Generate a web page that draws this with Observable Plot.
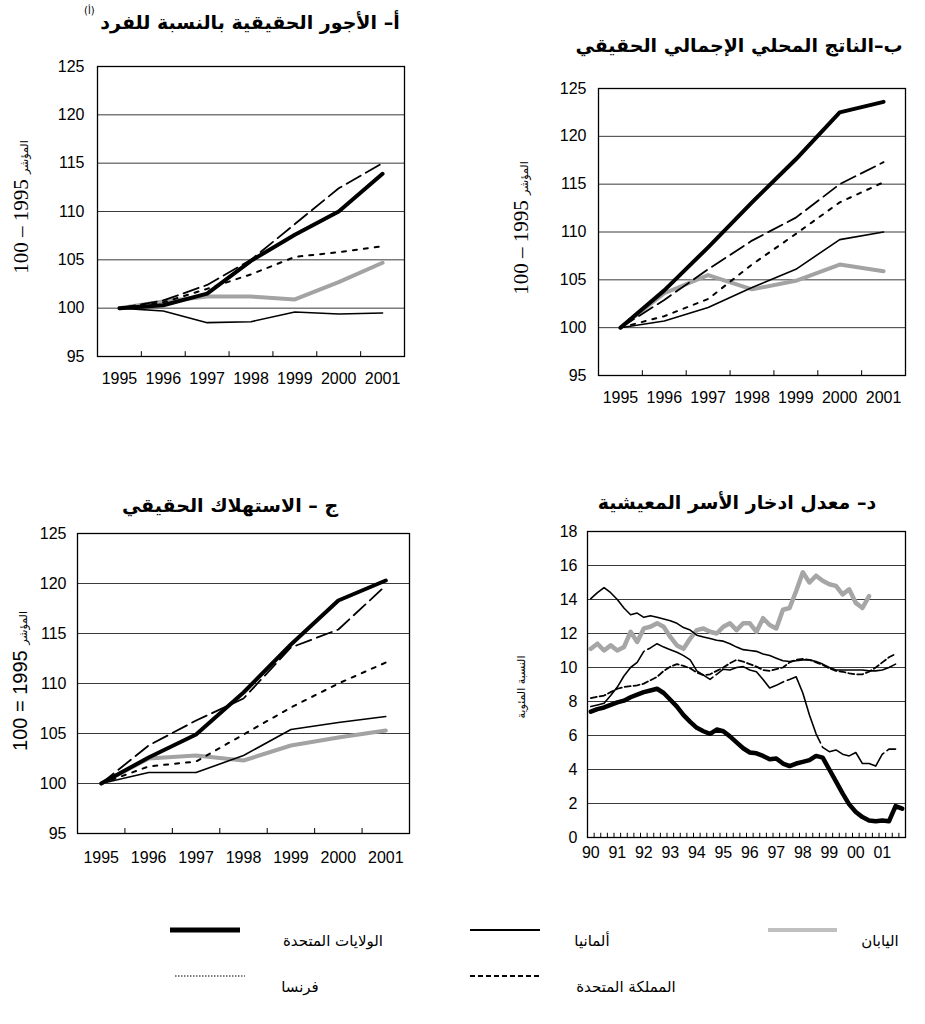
<!DOCTYPE html>
<html><head><meta charset="utf-8">
<script src="https://cdn.jsdelivr.net/npm/d3@7"></script>
<script src="https://cdn.jsdelivr.net/npm/@observablehq/plot@0.6"></script>
<style>
body{margin:0;background:#fff;}
#page{position:relative;width:925px;height:1024px;overflow:hidden;background:#fff;}
.title{position:absolute;transform:translate(-50%,-50%);white-space:nowrap;font-family:"DejaVu Sans",serif;font-weight:bold;font-size:19px;direction:rtl;line-height:1;color:#000;}
.sup{position:absolute;font-family:"DejaVu Sans",serif;font-size:10px;line-height:1;}
.ticks text{font-family:"Liberation Sans",Arial,sans-serif;font-size:16px;}
</style></head><body><div id="page"></div>
<script>
// ---------- data ----------
const years = [1995, 1996, 1997, 1998, 1999, 2000, 2001];
const seriesKeys = ["us", "de", "jp", "fr", "uk"];
const seriesNames = ["الولايات المتحدة", "ألمانيا", "اليابان", "فرنسا", "المملكة المتحدة"];

// أ – real wages per person
const wagesUS = [100, 100.3, 101.5, 104.9, 107.6, 110.0, 113.9];
const wagesDE = [100, 99.7, 98.5, 98.6, 99.6, 99.4, 99.5];
const wagesJP = [100, 100.7, 101.2, 101.2, 100.9, 102.7, 104.7];
const wagesFR = [100, 100.6, 102.0, 103.5, 105.3, 105.8, 106.4];
const wagesUK = [100, 100.8, 102.4, 105.0, 108.7, 112.4, 115.0];

// ب – real GDP
const gdpUS = [100, 103.9, 108.4, 113.1, 117.6, 122.5, 123.6];
const gdpDE = [100, 100.7, 102.1, 104.2, 106.1, 109.2, 110.0];
const gdpJP = [100, 103.6, 105.5, 104.0, 104.9, 106.6, 105.9];
const gdpFR = [100, 101.2, 103.0, 106.6, 109.8, 113.1, 115.2];
const gdpUK = [100, 102.9, 106.1, 109.1, 111.5, 115.0, 117.3];

// ج – real consumption
const consUS = [100, 102.6, 104.9, 109.1, 113.9, 118.3, 120.3];
const consDE = [100, 101.1, 101.1, 102.8, 105.4, 106.1, 106.7];
const consJP = [100, 102.5, 102.8, 102.3, 103.8, 104.6, 105.3];
const consFR = [100, 101.7, 102.2, 104.9, 107.6, 110.0, 112.1];
const consUK = [100, 103.8, 106.3, 108.5, 113.6, 115.4, 119.8];

const indexTicks = [95, 100, 105, 110, 115, 120, 125];
const indexGrid = [100, 105, 110, 115, 120];

// د – household saving rate, quarterly 1990Q1..
const saveYears = [1990, 1991, 1992, 1993, 1994, 1995, 1996, 1997, 1998, 1999, 2000, 2001];
const saveYearLabels = ["90", "91", "92", "93", "94", "95", "96", "97", "98", "99", "00", "01"];
const quarters = [1, 2, 3, 4];
const saveUS = [7.4, 7.55, 7.65, 7.8, 7.95, 8.05, 8.25, 8.4, 8.55, 8.65, 8.75, 8.5, 8.1, 7.7, 7.2, 6.8,
  6.45, 6.25, 6.1, 6.35, 6.25, 5.95, 5.6, 5.25, 5.0, 4.95, 4.8, 4.6, 4.65, 4.35, 4.2, 4.35,
  4.45, 4.55, 4.8, 4.7, 4.0, 3.3, 2.6, 1.95, 1.5, 1.2, 1.0, 0.95, 1.0, 0.95, 1.85, 1.7];
const saveDE = [14.05, 14.4, 14.7, 14.4, 14.0, 13.5, 13.1, 13.2, 12.95, 13.05, 12.95, 12.85, 12.75, 12.6, 12.35, 12.2,
  11.9, 11.8, 11.7, 11.6, 11.55, 11.4, 11.2, 11.05, 11.0, 10.95, 10.8, 10.7, 10.55, 10.4, 10.35, 10.4,
  10.45, 10.45, 10.35, 10.2, 10.0, 9.85, 9.85, 9.85, 9.85, 9.85, 9.8, 9.8, 9.85, 10.0, 10.2];
const saveJP = [11.1, 11.4, 11.0, 11.3, 11.0, 11.2, 12.1, 11.5, 12.3, 12.4, 12.6, 12.4, 11.8, 11.3, 11.1, 11.7,
  12.2, 12.3, 12.1, 12.0, 12.4, 12.6, 12.2, 12.6, 12.6, 12.1, 12.9, 12.5, 12.3, 13.4, 13.5, 14.5,
  15.6, 15.0, 15.4, 15.1, 14.9, 14.8, 14.3, 14.6, 13.8, 13.5, 14.2];
const saveFR = [8.2, 8.28, 8.35, 8.55, 8.75, 8.85, 8.9, 8.95, 9.05, 9.25, 9.45, 9.8, 10.05, 10.2, 10.1, 9.95,
  9.7, 9.55, 9.6, 9.8, 10.0, 10.25, 10.45, 10.35, 10.2, 10.05, 9.85, 9.8, 9.9, 10.0, 10.3, 10.45,
  10.5, 10.45, 10.3, 10.15, 9.95, 9.8, 9.75, 9.65, 9.6, 9.6, 9.75, 10.0, 10.3, 10.6, 10.8];
const saveUK = [7.7, 7.8, 7.9, 8.35, 8.85, 9.5, 10.0, 10.3, 10.95, 11.15, 11.4, 11.2, 11.05, 10.9, 10.7, 10.45,
  9.8, 9.55, 9.3, 9.6, 9.9, 9.85, 10.0, 10.05, 9.85, 9.75, 9.3, 8.8, 8.95, 9.15, 9.3, 9.45,
  8.5, 7.2, 6.1, 5.3, 5.05, 5.15, 4.9, 4.8, 5.0, 4.35, 4.35, 4.2, 4.9, 5.2, 5.2];
const saveTicks = [0, 2, 4, 6, 8, 10, 12, 14, 16, 18];
const saveGrid = [2, 4, 6, 8, 10, 12, 14, 16];

// ---------- helpers ----------
const page = document.getElementById("page");
const quarterPos = saveYears.flatMap(y => quarters.map(q => y + (q - 0.5) / 4));
const quarterBounds = saveYears.flatMap(y => quarters.map(q => y + (q - 1) / 4)).concat([saveYears[saveYears.length - 1] + 1]);
const yearBounds = years.slice(0, -1).map(y => y + 0.5);

function rows(values, xs) { return values.map((v, i) => ({x: xs[i], y: v})); }

const styleIdx = {
  jp: {stroke: "#a3a3a3", strokeWidth: 4},
  de: {stroke: "#000", strokeWidth: 1.6},
  fr: {stroke: "#000", strokeWidth: 2, strokeDasharray: "4,7"},
  uk: {stroke: "#000", strokeWidth: 1.8, strokeDasharray: "16,6"},
  us: {stroke: "#000", strokeWidth: 4}
};
const styleSave = {
  jp: {stroke: "#a6a6a6", strokeWidth: 4.5},
  de: {stroke: "#000", strokeWidth: 1.6},
  fr: {stroke: "#000", strokeWidth: 1.8, strokeDasharray: "6,3"},
  uk: {stroke: "#000", strokeWidth: 1.6, strokeDasharray: "80,4"},
  us: {stroke: "#000", strokeWidth: 4.5}
};
const drawOrder = ["jp", "de", "fr", "uk", "us"];

function place(el, left, top) {
  el.style.position = "absolute"; el.style.left = left + "px"; el.style.top = top + "px";
  page.appendChild(el);
}
function addYLabel(svg, x, y, parts) {
  const t = d3.select(svg).append("text")
    .attr("transform", `translate(${x},${y}) rotate(-90)`)
    .attr("text-anchor", "middle").attr("direction", "ltr").attr("fill", "#000");
  parts.forEach(p => t.append("tspan").attr("style", `font-family:${p.font};font-size:${p.size}px`).text(p.text));
}
function addTitle(text, cx, cy) {
  const d = document.createElement("div");
  d.className = "title"; d.textContent = text;
  d.style.left = cx + "px"; d.style.top = cy + "px";
  page.appendChild(d);
}

function indexPanel(data, geo) {
  const lines = drawOrder.map(k => Plot.line(rows(data[k], years), {x: "x", y: "y", ...styleIdx[k], strokeLinejoin: "round"}));
  return Plot.plot({
    width: geo.w, height: geo.h,
    marginLeft: geo.ml, marginRight: geo.mr, marginTop: geo.mt, marginBottom: geo.mb,
    x: {type: "linear", domain: [years[0] - 0.5, years[years.length - 1] + 0.5]},
    y: {domain: [indexTicks[0], indexTicks[indexTicks.length - 1]]},
    style: {fontFamily: "'Liberation Sans', Arial, sans-serif", fontSize: "16px", color: "#000", background: "transparent"},
    marks: [
      Plot.ruleY(indexGrid, {stroke: "#3a3a3a", strokeWidth: 1}),
      Plot.ruleX(yearBounds, {y1: indexTicks[0], y2: indexTicks[0] + geo.tick, stroke: "#000", strokeWidth: 1}),
      ...lines,
      Plot.frame({stroke: "#000", strokeWidth: 1.3}),
      Plot.axisY({ticks: indexTicks, tickSize: 0, tickPadding: geo.ytp, fontSize: 16, label: null, className: "ticks"}),
      Plot.axisX({ticks: years, tickSize: 0, tickPadding: geo.xtp, fontSize: 16, tickFormat: d => String(d), label: null, className: "ticks"})
    ]
  });
}

// ---------- panel أ ----------
const svgA = indexPanel({us: wagesUS, de: wagesDE, jp: wagesJP, fr: wagesFR, uk: wagesUK},
  {w: 460, h: 370, ml: 97, mr: 56, mt: 26, mb: 54, tick: 0.5, ytp: 13, xtp: 16});
addYLabel(svgA, 28, 167, [
  {text: "100 – 1995 ", font: "'Liberation Serif','Times New Roman',serif", size: 21},
  {text: "المؤشر", font: "'DejaVu Sans',serif", size: 11}]);
place(svgA, 0, 40);
addTitle("أ– الأجور الحقيقية بالنسبة للفرد", 250, 22);
const sup = document.createElement("div"); sup.className = "sup"; sup.textContent = "(أ)";
sup.style.left = "84px"; sup.style.top = "6px"; page.appendChild(sup);

// ---------- panel ب ----------
const svgB = indexPanel({us: gdpUS, de: gdpDE, jp: gdpJP, fr: gdpFR, uk: gdpUK},
  {w: 455, h: 350, ml: 128, mr: 20, mt: 28, mb: 35, tick: 0.5, ytp: 12, xtp: 16});
addYLabel(svgB, 58, 168, [
  {text: "100 – 1995 ", font: "'Liberation Serif','Times New Roman',serif", size: 21},
  {text: "المؤشر", font: "'DejaVu Sans',serif", size: 11}]);
place(svgB, 470, 60);
addTitle("ب–الناتج المحلي الإجمالي الحقيقي", 739, 45);

// ---------- panel ج ----------
const svgC = indexPanel({us: consUS, de: consDE, jp: consJP, fr: consFR, uk: consUK},
  {w: 460, h: 360, ml: 77, mr: 51, mt: 13, mb: 47, tick: 0.5, ytp: 11, xtp: 18});
addYLabel(svgC, 27, 161, [
  {text: "100 = 1995 ", font: "'Liberation Sans',Arial,sans-serif", size: 20},
  {text: "المؤشر", font: "'DejaVu Sans',serif", size: 11}]);
place(svgC, 0, 520);
addTitle("ج –  الاستهلاك الحقيقي", 230, 505);

// ---------- panel د ----------
const saveData = {us: saveUS, de: saveDE, jp: saveJP, fr: saveFR, uk: saveUK};
const svgD = Plot.plot({
  width: 455, height: 360, marginLeft: 117, marginRight: 20, marginTop: 11, marginBottom: 43,
  x: {type: "linear", domain: [saveYears[0], saveYears[saveYears.length - 1] + 1]},
  y: {domain: [saveTicks[0], saveTicks[saveTicks.length - 1]]},
  style: {fontFamily: "'Liberation Sans', Arial, sans-serif", fontSize: "16px", color: "#000", background: "transparent"},
  marks: [
    Plot.ruleY(saveGrid, {stroke: "#3a3a3a", strokeWidth: 1}),
    Plot.ruleX(quarterBounds, {y1: 0, y2: 0.25, stroke: "#000", strokeWidth: 1}),
    ...drawOrder.map(k => Plot.line(rows(saveData[k], quarterPos), {x: "x", y: "y", ...styleSave[k], strokeLinejoin: "round"})),
    Plot.frame({stroke: "#000", strokeWidth: 1.3}),
    Plot.axisY({ticks: saveTicks, tickSize: 0, tickPadding: 10, fontSize: 16, label: null, className: "ticks"}),
    Plot.axisX({ticks: saveYears.map(y => y + 0.125), tickSize: 0, tickPadding: 9, fontSize: 16,
      tickFormat: d => saveYearLabels[Math.round(d - 0.125) - saveYears[0]], label: null, className: "ticks"})
  ]
});
addYLabel(svgD, 55, 167, [{text: "النسبة المئوية", font: "'DejaVu Sans',serif", size: 11}]);
place(svgD, 470, 520);
addTitle("د– معدل ادخار الأسر المعيشية", 737, 502);

// ---------- legend ----------
const legendLayout = {
  us: {x1: 170, x2: 240, y: 30, tx: 333, ty: 46, w: 5, dash: null, color: "#000"},
  de: {x1: 470, x2: 540, y: 30, tx: 592, ty: 46, w: 1.8, dash: null, color: "#000"},
  jp: {x1: 768, x2: 837, y: 30, tx: 880, ty: 46, w: 4, dash: null, color: "#c0c0c0"},
  fr: {x1: 175, x2: 245, y: 76, tx: 300, ty: 92, w: 1, dash: "1.5,1.5", color: "#000"},
  uk: {x1: 470, x2: 540, y: 76, tx: 626, ty: 92, w: 1.8, dash: "5,3", color: "#000"}
};
const leg = d3.create("svg").attr("width", 925).attr("height", 120);
seriesKeys.forEach((k, i) => {
  const L = legendLayout[k];
  leg.append("line").attr("x1", L.x1).attr("x2", L.x2).attr("y1", L.y).attr("y2", L.y)
    .attr("stroke", L.color).attr("stroke-width", L.w).attr("stroke-dasharray", L.dash);
  leg.append("text").attr("x", L.tx).attr("y", L.ty).attr("text-anchor", "middle")
    .attr("font-family", "'DejaVu Sans', serif").attr("font-size", 15).attr("direction", "rtl")
    .text(seriesNames[i]);
});
place(leg.node(), 0, 900);
</script></body></html>
